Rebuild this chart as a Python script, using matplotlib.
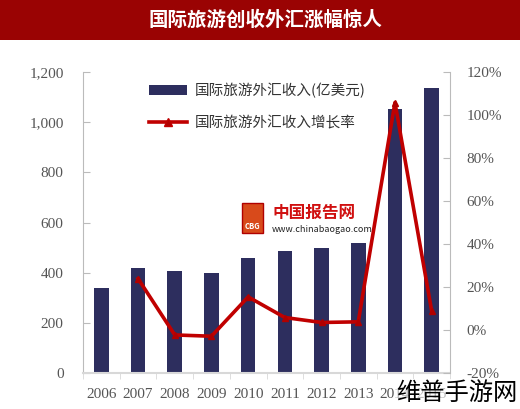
import matplotlib
matplotlib.use("Agg")
import matplotlib.pyplot as plt
from matplotlib.patches import Rectangle
from matplotlib.lines import Line2D
import numpy as np

plt.rcParams['font.family'] = ['Noto Sans CJK SC', 'DejaVu Sans']

years = ["2006", "2007", "2008", "2009", "2010", "2011", "2012", "2013", "2014", "2015"]
revenue = [340, 419, 408, 397, 458, 485, 500, 517, 1054, 1137]
growth_years = ["2007", "2008", "2009", "2010", "2011", "2012", "2013", "2014", "2015"]
growth = [23.9, -2.3, -2.9, 15.4, 5.8, 3.5, 3.8, 105.8, 8.9]

title = "国际旅游创收外汇涨幅惊人"
bar_label = "国际旅游外汇收入(亿美元)"
line_label = "国际旅游外汇收入增长率"

W, H = 520, 409
fig = plt.figure(figsize=(W / 100, H / 100), dpi=100)
fig.patch.set_facecolor("white")

# title band
fig.patches.append(Rectangle((0, 1 - 40 / H), 1, 40 / H, transform=fig.transFigure,
                             facecolor="#9A0303", edgecolor="none", zorder=0))
fig.text(266 / W, 1 - 20 / H, title, color="white", fontsize=14, fontweight="bold",
         ha="center", va="center")

ax = fig.add_axes([83 / W, 1 - 373 / H, (450 - 83) / W, (373 - 72) / H])
x = np.arange(len(years))
ax.bar(x, revenue, width=0.4, color="#2D2E5E", zorder=2)
ax.set_xlim(-0.5, len(years) - 0.5)
ax.set_ylim(0, 1200)
ax.set_yticks(np.arange(0, 1201, 200))
ax.set_yticklabels(["0", "200", "400", "600", "800", "1,000", "1,200"])
ax.set_xticks(x)
ax.set_xticklabels(years)

ax2 = ax.twinx()
gx = [years.index(y) for y in growth_years]
ax2.plot(gx, growth, color="#C00000", lw=2.6, marker="^", ms=4.5,
         markerfacecolor="#B00000", markeredgecolor="#B00000", zorder=3)
ax2.set_ylim(-20, 120)
ax2.set_yticks(np.arange(-20, 121, 20))
ax2.set_yticklabels([f"{v}%" for v in range(-20, 121, 20)])

tick_color = "#555555"
spine_color = "#BBBBBB"
for a in (ax, ax2):
    for s in a.spines.values():
        s.set_visible(False)
ax.spines['left'].set_visible(True)
ax.spines['left'].set_color(spine_color)
ax.spines['bottom'].set_visible(True)
ax.spines['bottom'].set_color("#D8D8D8")
ax.spines['bottom'].set_linewidth(1.5)
ax2.spines['right'].set_visible(True)
ax2.spines['right'].set_color(spine_color)

serif = ['Liberation Serif', 'DejaVu Serif']
ax.tick_params(axis='y', direction='in', length=5, color=spine_color, pad=14,
               labelsize=11, labelcolor=tick_color)
ax.tick_params(axis='x', length=0, pad=11, labelsize=11, labelcolor=tick_color)
ax2.tick_params(axis='y', direction='in', length=5, color=spine_color, pad=12,
                labelsize=11, labelcolor=tick_color)
for lab in ax.get_yticklabels() + ax.get_xticklabels() + ax2.get_yticklabels():
    lab.set_family(serif)

# category boundary ticks
ax.set_xticks(np.arange(-0.5, len(years), 1), minor=True)
ax.tick_params(axis='x', which='minor', length=4, direction='out', color="#D8D8D8")

handles = [Rectangle((0, 0), 1, 1, facecolor="#2D2E5E"),
           Line2D([0], [0], color="#C00000", lw=2.6, marker="^", ms=6,
                  markerfacecolor="#B00000")]
fig.legend(handles, [bar_label, line_label], loc="upper left",
           bbox_to_anchor=(136 / W, 1 - 70 / H), frameon=False, fontsize=10.5,
           handlelength=2.6, handletextpad=0.5, labelspacing=1.2, labelcolor="#333333")

# logo watermark
fig.patches.append(Rectangle((242 / W, 1 - 233 / H), 21 / W, 30 / H, transform=fig.transFigure,
                             facecolor="#D84A1B", edgecolor="#B00000", zorder=5))
fig.text(252.5 / W, 1 - 227 / H, "CBG", color="white", fontsize=5.5, fontweight="bold",
         ha="center", va="center", zorder=6)
fig.text(272 / W, 1 - 213 / H, "中国报告网", color="#D01010", fontsize=12, fontweight="bold",
         ha="left", va="center", zorder=6)
fig.text(272 / W, 1 - 229 / H, "www.chinabaogao.com", color="#222222", fontsize=6.5,
         ha="left", va="center", zorder=6)

# bottom-right watermark
fig.text(457 / W, 1 - 393 / H, "维普手游网", color="black", fontsize=17.5,
         ha="center", va="center", zorder=7,
         bbox=dict(facecolor="white", alpha=0.6, edgecolor="none", pad=0.5))

fig.savefig("out.png", dpi=100)
